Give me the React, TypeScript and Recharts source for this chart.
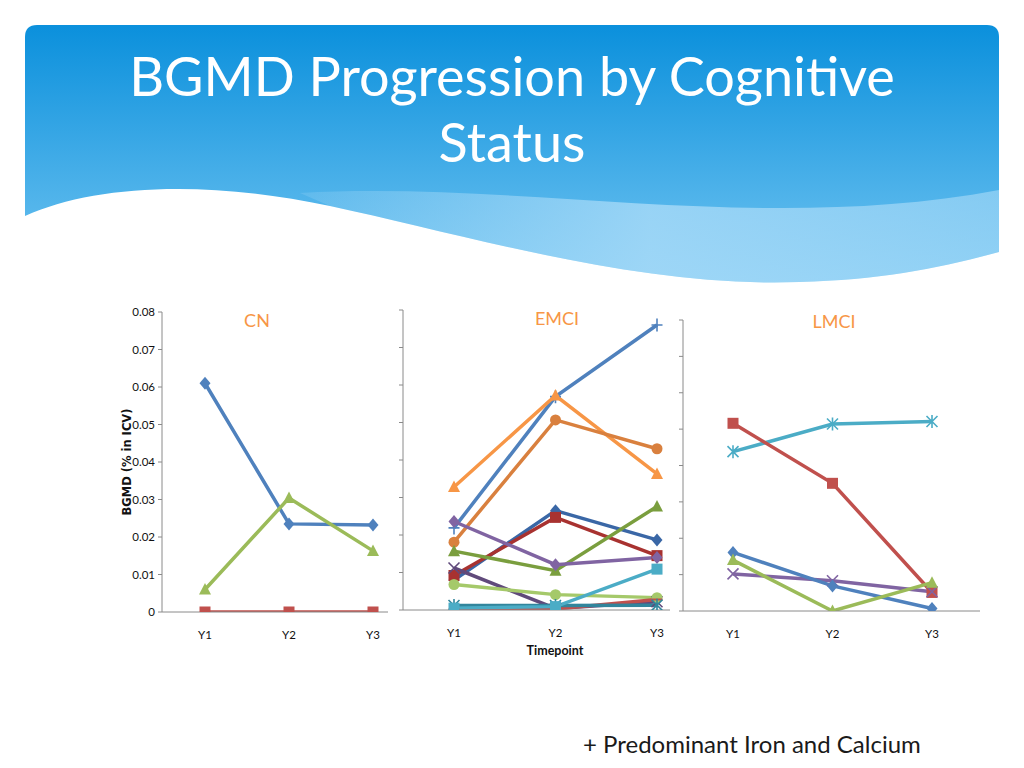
import { Line, LineChart, XAxis, YAxis } from "recharts";

// categories + axis ticks
const timepoints = ["Y1", "Y2", "Y3"];
const yTicks = [0, 0.01, 0.02, 0.03, 0.04, 0.05, 0.06, 0.07, 0.08];

// CN panel
const cnBlue = [0.061, 0.0235, 0.0232];
const cnGreen = [0.006, 0.0304, 0.0163];
const cnRed = [0, 0, 0];

// EMCI panel
const emciBluePlus = [0.0219, 0.0569, 0.076];
const emciOrange = [0.0328, 0.0572, 0.0363];
const emciDarkOrange = [0.0181, 0.0507, 0.043];
const emciDarkBlue = [0.008, 0.0265, 0.0187];
const emciDarkRed = [0.0092, 0.0247, 0.0145];
const emciPurple = [0.0236, 0.0121, 0.014];
const emciOlive = [0.0157, 0.0105, 0.0276];
const emciDarkPurple = [0.0112, 0.0004, 0.0022];
const emciLightGreen = [0.0068, 0.0041, 0.0033];
const emciCyan = [0.0005, 0.0009, 0.0109];
const emciTeal = [0.0012, 0.0012, 0.0013];
const emciRed = [0.0002, 0.0003, 0.0028];

// LMCI panel
const lmciRed = [0.0516, 0.0351, 0.0051];
const lmciCyan = [0.0438, 0.0514, 0.0521];
const lmciBlue = [0.0161, 0.0069, 0.0007];
const lmciGreen = [0.014, 0, 0.0078];
const lmciPurple = [0.0102, 0.0083, 0.0053];

type Shape = "diamond" | "square" | "triangle" | "x" | "star" | "circle" | "plus" | "dash";
type SeriesDef = { key: string; values: number[]; color: string; shape: Shape };

const cnSeries: SeriesDef[] = [
  { key: "red", values: cnRed, color: "#C0504D", shape: "square" },
  { key: "blue", values: cnBlue, color: "#4F81BD", shape: "diamond" },
  { key: "green", values: cnGreen, color: "#9BBB59", shape: "triangle" },
];

const emciSeries: SeriesDef[] = [
  { key: "bluePlus", values: emciBluePlus, color: "#4F81BD", shape: "plus" },
  { key: "orange", values: emciOrange, color: "#F79646", shape: "triangle" },
  { key: "darkOrange", values: emciDarkOrange, color: "#D9803E", shape: "circle" },
  { key: "darkBlue", values: emciDarkBlue, color: "#3A67A6", shape: "diamond" },
  { key: "darkRed", values: emciDarkRed, color: "#A83230", shape: "square" },
  { key: "olive", values: emciOlive, color: "#7A9E3E", shape: "triangle" },
  { key: "purple", values: emciPurple, color: "#8064A2", shape: "diamond" },
  { key: "darkPurple", values: emciDarkPurple, color: "#604A7B", shape: "x" },
  { key: "lightGreen", values: emciLightGreen, color: "#A5C96A", shape: "circle" },
  { key: "red", values: emciRed, color: "#C0504D", shape: "dash" },
  { key: "teal", values: emciTeal, color: "#31859C", shape: "star" },
  { key: "cyan", values: emciCyan, color: "#4BACC6", shape: "square" },
];

const lmciSeries: SeriesDef[] = [
  { key: "cyan", values: lmciCyan, color: "#4BACC6", shape: "star" },
  { key: "red", values: lmciRed, color: "#C0504D", shape: "square" },
  { key: "purple", values: lmciPurple, color: "#8064A2", shape: "x" },
  { key: "blue", values: lmciBlue, color: "#4F81BD", shape: "diamond" },
  { key: "green", values: lmciGreen, color: "#9BBB59", shape: "triangle" },
];

function buildRows(series: SeriesDef[]) {
  return timepoints.map((tp, i) => {
    const row: Record<string, string | number> = { tp };
    series.forEach((s) => {
      row[s.key] = s.values[i];
    });
    return row;
  });
}

function Marker({ cx, cy, color, shape }: { cx?: number; cy?: number; color: string; shape: Shape }) {
  if (cx == null || cy == null) return null;
  const r = 5.5;
  switch (shape) {
    case "diamond":
      return <polygon points={`${cx},${cy - r - 1} ${cx + r},${cy} ${cx},${cy + r + 1} ${cx - r},${cy}`} fill={color} />;
    case "square":
      return <rect x={cx - 5.5} y={cy - 5.5} width={11} height={11} fill={color} />;
    case "triangle":
      return <polygon points={`${cx},${cy - 6.5} ${cx + 6},${cy + 5} ${cx - 6},${cy + 5}`} fill={color} />;
    case "circle":
      return <circle cx={cx} cy={cy} r={5.5} fill={color} />;
    case "x":
      return <path d={`M${cx - r},${cy - r}L${cx + r},${cy + r}M${cx - r},${cy + r}L${cx + r},${cy - r}`} stroke={color} strokeWidth={1.6} />;
    case "star":
      return (
        <path
          d={`M${cx - r},${cy - r}L${cx + r},${cy + r}M${cx - r},${cy + r}L${cx + r},${cy - r}M${cx},${cy - r - 1}L${cx},${cy + r + 1}`}
          stroke={color}
          strokeWidth={1.6}
        />
      );
    case "plus":
      return <path d={`M${cx - r},${cy}L${cx + r},${cy}M${cx},${cy - r - 1}L${cx},${cy + r + 1}`} stroke={color} strokeWidth={1.6} />;
    case "dash":
      return <path d={`M${cx - r},${cy}L${cx + r},${cy}`} stroke={color} strokeWidth={2} />;
  }
  return null;
}

type PanelProps = {
  left: number;
  top: number;
  width: number;
  height: number;
  marginLeft: number;
  marginRight: number;
  yAxisWidth: number;
  padLeft: number;
  padRight: number;
  showYLabels: boolean;
  series: SeriesDef[];
};

function Panel(p: PanelProps) {
  const data = buildRows(p.series);
  return (
    <div style={{ position: "absolute", left: p.left, top: p.top }}>
      <LineChart width={p.width} height={p.height} data={data} margin={{ top: 12, right: p.marginRight, left: p.marginLeft, bottom: 38 }}>
        <XAxis
          dataKey="tp"
          height={30}
          padding={{ left: p.padLeft, right: p.padRight }}
          axisLine={{ stroke: "#8a8a8a" }}
          tickLine={false}
          tickSize={0}
          tickMargin={19}
          tick={{ fontSize: 11.5, fill: "#111", fontFamily: "Lato" }}
        />
        <YAxis
          width={p.yAxisWidth}
          domain={[0, 0.08]}
          ticks={yTicks}
          allowDataOverflow
          axisLine={{ stroke: "#8a8a8a" }}
          tickLine={{ stroke: "#8a8a8a" }}
          tickSize={4}
          tickMargin={3}
          tickFormatter={(v: number) => (p.showYLabels ? (v === 0 ? "0" : v.toFixed(2)) : "")}
          tick={{ fontSize: 11.5, fill: "#111", fontFamily: "Lato" }}
          label={
            p.showYLabels
              ? { value: "BGMD (% in ICV)", angle: -90, position: "center", fontSize: 11.5, fontWeight: 700, fill: "#111", fontFamily: "DejaVu Sans" }
              : undefined
          }
        />
        {p.series.map((s) => (
          <Line
            key={s.key}
            dataKey={s.key}
            stroke={s.color}
            strokeWidth={3.5}
            isAnimationActive={false}
            activeDot={false}
            dot={(d: { cx?: number; cy?: number; index?: number }) => <Marker key={`${s.key}-${d.index}`} cx={d.cx} cy={d.cy} color={s.color} shape={s.shape} />}
          />
        ))}
      </LineChart>
    </div>
  );
}

const panelTitle = { position: "absolute" as const, color: "#F79646", fontFamily: "Lato", fontSize: 18, transform: "translateX(-50%)" };

export default function App() {
  return (
    <div style={{ position: "absolute", left: 0, top: 0, width: 1024, height: 768, background: "#fff", overflow: "hidden", fontFamily: "Lato" }}>
      <svg width={1024} height={300} style={{ position: "absolute", left: 0, top: 0 }}>
        <defs>
          <linearGradient id="hdr" x1="0" y1="0" x2="0" y2="1">
            <stop offset="0" stopColor="#0B90DC" />
            <stop offset="1" stopColor="#74C6F2" />
          </linearGradient>
          <linearGradient id="band" x1="0" y1="0" x2="1" y2="0">
            <stop offset="0" stopColor="#A9DBF8" stopOpacity={0.2} />
            <stop offset="0.5" stopColor="#A9DBF8" stopOpacity={0.8} />
            <stop offset="1" stopColor="#A9DBF8" stopOpacity={0.6} />
          </linearGradient>
        </defs>
        <path d="M25,37 Q25,25 37,25 L987,25 Q999,25 999,37 L999,290 L25,290 Z" fill="url(#hdr)" />
        <path d="M300,193 C520,180 760,235 999,190 L999,252 C940,268 880,280 800,282 C640,288 470,236 330,206 Z" fill="url(#band)" />
        <path d="M25,216 C95,184 210,180 330,206 C470,236 640,288 800,282 C880,280 940,268 999,252 L999,300 L25,300 Z" fill="#fff" />
      </svg>
      <div style={{ position: "absolute", left: 0, top: 43, width: 1024, textAlign: "center", color: "#fff", fontSize: 54, lineHeight: "66px" }}>
        BGMD Progression by Cognitive
        <br />
        Status
      </div>

      <Panel left={80} top={300} width={320} height={380} marginLeft={12} marginRight={12} yAxisWidth={70} padLeft={43} padRight={15} showYLabels series={cnSeries} />
      <Panel left={390} top={298} width={290} height={380} marginLeft={0} marginRight={10} yAxisWidth={13} padLeft={51} padRight={13} showYLabels={false} series={emciSeries} />
      <Panel left={670} top={308} width={320} height={371} marginLeft={0} marginRight={10} yAxisWidth={13} padLeft={50} padRight={48} showYLabels={false} series={lmciSeries} />

      <div style={{ ...panelTitle, left: 257, top: 309 }}>CN</div>
      <div style={{ ...panelTitle, left: 557, top: 307 }}>EMCI</div>
      <div style={{ ...panelTitle, left: 834, top: 310 }}>LMCI</div>
      <div style={{ position: "absolute", left: 555, top: 643, transform: "translateX(-50%)", fontSize: 12.5, fontWeight: 700, color: "#111" }}>Timepoint</div>

      <div style={{ position: "absolute", left: 583, top: 729, fontSize: 24, color: "#1a1a1a" }}>+ Predominant Iron and Calcium</div>
    </div>
  );
}
